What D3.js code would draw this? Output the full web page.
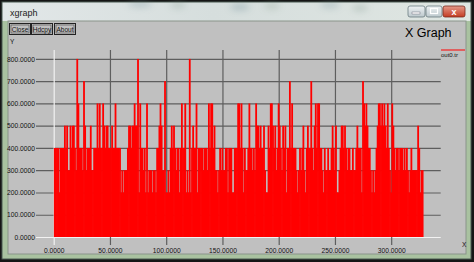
<!DOCTYPE html>
<html>
<head>
<meta charset="utf-8">
<script src="https://cdn.jsdelivr.net/npm/d3@7"></script>
<style>
  body { margin: 0; background: #111; }
  svg { display: block; font-family: "Liberation Sans", Arial, sans-serif; }
</style>
</head>
<body>
<script>
// out0.tr samples, one per time unit (hundreds)
var throughput = [
  400,400,400,400,200,400,400,400,400,500,400,500,300,300,500,400,500,500,400,300,
  800,600,400,400,400,300,700,500,300,400,400,400,500,300,300,400,400,400,600,400,
  600,400,400,600,500,400,500,500,400,400,400,500,400,400,600,400,400,400,400,200,
  300,200,300,300,300,400,500,500,400,500,500,600,500,500,800,200,600,400,400,300,
  400,200,600,200,300,300,300,200,300,300,200,400,400,500,600,500,300,300,700,200,
  200,300,200,400,500,400,500,400,300,400,400,200,400,600,400,400,600,200,300,200,
  800,200,400,500,400,400,600,200,400,400,400,400,300,400,400,400,300,600,400,600,
  600,400,500,300,300,200,300,400,300,400,300,300,400,400,200,400,400,400,200,200,
  400,400,400,600,600,400,600,400,200,400,300,300,400,600,400,400,300,400,300,600,
  500,500,400,500,400,400,500,300,200,200,500,400,600,600,500,400,500,300,400,600,
  500,400,300,500,400,500,200,400,400,700,400,600,400,400,400,300,200,300,400,300,
  400,500,300,200,400,500,400,400,700,400,300,500,600,400,600,600,400,400,300,200,
  400,300,300,400,300,300,400,500,400,300,500,200,200,300,400,500,500,400,500,400,
  300,400,400,300,300,400,300,300,400,500,400,400,400,200,700,600,500,600,500,400,
  400,300,200,300,200,300,400,500,600,600,500,600,500,600,500,400,600,400,300,200,
  600,500,400,300,400,400,300,400,400,400,300,400,300,400,300,200,300,400,300,300,
  300,300,300,500,400,200,300,300
];
var xTicks = [0, 50, 100, 150, 200, 250, 300];
var yTicks = [0, 100, 200, 300, 400, 500, 600, 700, 800];
var legendName = "out0.tr";

var W = 474, H = 262;
var svg = d3.select('body').append('svg')
    .attr('width', W)
    .attr('height', H);

var defs = svg.append('defs');
var tg = defs.append('linearGradient').attr('id', 'titlebg');
tg.append('stop').attr('offset', '0%').attr('stop-color', '#e2e7e8');
tg.append('stop').attr('offset', '45%').attr('stop-color', '#d6dedd');
tg.append('stop').attr('offset', '100%').attr('stop-color', '#dfe6e2');
defs.append('filter').attr('id', 'blur')
    .attr('x', '-50%').attr('y', '-100%').attr('width', '200%').attr('height', '300%')
    .append('feGaussianBlur').attr('stdDeviation', 3.5);
var cg = defs.append('linearGradient').attr('id', 'closebg').attr('x2', 0).attr('y2', 1);
cg.append('stop').attr('offset', '0%').attr('stop-color', '#e49a8a');
cg.append('stop').attr('offset', '100%').attr('stop-color', '#c43b22');
var bg = defs.append('linearGradient').attr('id', 'btnbg').attr('x2', 0).attr('y2', 1);
bg.append('stop').attr('offset', '0%').attr('stop-color', '#eef2f4');
bg.append('stop').attr('offset', '100%').attr('stop-color', '#bcc8cc');

// window frame
svg.append('rect').attr('width', W).attr('height', H).attr('fill', '#151515');
svg.append('rect').attr('x', 2).attr('y', 2).attr('width', 469).attr('height', 257)
    .attr('fill', '#a9c2a0');
svg.append('rect').attr('x', 2).attr('y', 2).attr('width', 469).attr('height', 19)
    .attr('fill', 'url(#titlebg)');
var blobs = svg.append('g').attr('filter', 'url(#blur)').attr('opacity', 0.35);
[[140, 4, 12, '#6f8f9a'], [178, 5, 8, '#7f9a8a'], [240, 7, 10, '#5d7f8c'], [272, 6, 8, '#8aa08a'],
 [330, 5, 10, '#6f8f9a'], [360, 8, 8, '#7a9488']].forEach(function(b) {
  blobs.append('ellipse').attr('cx', b[0]).attr('cy', b[1]).attr('rx', b[2]).attr('ry', 3)
      .attr('fill', b[3]);
});
svg.append('rect').attr('x', 2).attr('y', 2).attr('width', 469).attr('height', 257)
    .attr('fill', 'none').attr('stroke', '#4a5a52').attr('stroke-width', 1);
svg.append('text').attr('x', 10).attr('y', 16).attr('font-size', 9).attr('fill', '#222').text('xgraph');

// caption buttons
[[408, 17], [426, 16]].forEach(function(b) {
  svg.append('rect').attr('x', b[0]).attr('y', 6).attr('width', b[1]).attr('height', 11).attr('rx', 2)
      .attr('fill', 'url(#btnbg)').attr('stroke', '#6b7b80').attr('stroke-width', 0.8);
});
svg.append('rect').attr('x', 412).attr('y', 12).attr('width', 8).attr('height', 2)
    .attr('fill', '#fff').attr('stroke', '#556').attr('stroke-width', 0.4);
svg.append('rect').attr('x', 430.5).attr('y', 8.5).attr('width', 7).attr('height', 5)
    .attr('fill', 'none').attr('stroke', '#fff').attr('stroke-width', 1.2);
svg.append('rect').attr('x', 443).attr('y', 6).attr('width', 22).attr('height', 11).attr('rx', 2)
    .attr('fill', 'url(#closebg)').attr('stroke', '#7a2a1c').attr('stroke-width', 0.8);
svg.append('text').attr('x', 454).attr('y', 15).attr('text-anchor', 'middle')
    .attr('font-size', 9).attr('font-weight', 'bold').attr('fill', '#fff').text('x');

// client area
svg.append('rect').attr('x', 8).attr('y', 21).attr('width', 458).attr('height', 233)
    .attr('fill', '#c0c0c0').attr('stroke', '#8a948a').attr('stroke-width', 1);

var buttons = [['Close', 9, 21], ['Hdcpy', 31, 21], ['About', 54, 21]];
buttons.forEach(function(b) {
  svg.append('rect').attr('x', b[1] + 0.5).attr('y', 23.5).attr('width', b[2]).attr('height', 11)
      .attr('fill', 'none').attr('stroke', '#222');
  svg.append('rect').attr('x', b[1] + 2).attr('y', 25).attr('width', b[2] - 3).attr('height', 8)
      .attr('fill', 'none').attr('stroke', '#444').attr('stroke-width', 0.6);
  svg.append('text').attr('x', b[1] + 0.5 + b[2] / 2).attr('y', 31.5).attr('text-anchor', 'middle')
      .attr('font-size', 6.5).attr('fill', '#111').text(b[0]);
});

svg.append('text').attr('x', 405).attr('y', 37).attr('font-size', 12.5).attr('fill', '#000').text('X Graph');
svg.append('text').attr('x', 10).attr('y', 44).attr('font-size', 6.5).attr('fill', '#111').text('Y');
svg.append('text').attr('x', 462).attr('y', 247).attr('font-size', 6.5).attr('fill', '#111').text('X');

// scales
var x = d3.scaleLinear().domain([0, 344]).range([53.7, 440.7]);
var y = d3.scaleLinear().domain([0, 840]).range([237, 50]);

var gy = svg.append('g')
    .attr('transform', 'translate(36,0)')
    .call(d3.axisLeft(y).tickValues(yTicks).tickSize(-(440.7 - 36)).tickPadding(1)
        .tickFormat(d3.format('.4f')));
var gx = svg.append('g')
    .attr('transform', 'translate(0,245)')
    .call(d3.axisBottom(x).tickValues(xTicks).tickSize(-(245 - 50)).tickPadding(3)
        .tickFormat(d3.format('.4f')));
[gy, gx].forEach(function(g) {
  g.select('.domain').remove();
  g.selectAll('.tick line')
      .attr('stroke', function(d) { return d === 0 ? '#f2f2f2' : '#5e5e5e'; })
      .attr('stroke-width', 1.2);
  g.selectAll('.tick text').attr('font-size', 6.7).attr('fill', '#111')
      .attr('font-family', '"Liberation Sans", Arial, sans-serif');
});

// bars: each sample is a vertical stroke, a bit wider than its slot so
// single low samples show only as thin light lines, as in xgraph's output
var bw = x(1) - x(0);
svg.append('g').selectAll('rect')
    .data(throughput)
    .enter()
    .append('rect')
    .attr('x', (d, i) => x(i) + 0.5 - bw * 0.3)
    .attr('width', bw * 1.6)
    .attr('y', d => y(d))
    .attr('height', d => y(0) - y(d))
    .attr('fill', '#ff0000');

// legend
svg.append('line').attr('x1', 441).attr('x2', 465).attr('y1', 50).attr('y2', 50)
    .attr('stroke', '#ff0000').attr('stroke-width', 1);
svg.append('text').attr('x', 441).attr('y', 57).attr('font-size', 6).attr('fill', '#111').text(legendName);
</script>
</body>
</html>
